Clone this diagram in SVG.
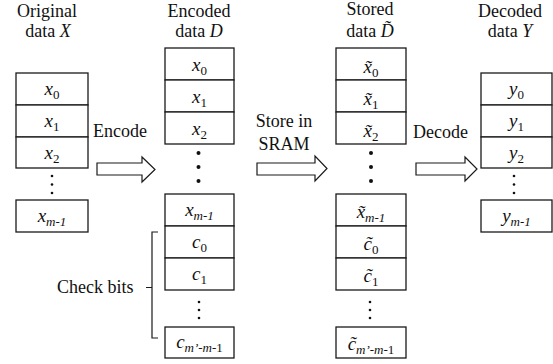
<svg xmlns="http://www.w3.org/2000/svg" width="553" height="364" viewBox="0 0 553 364">
  <style>
    .cell { fill: #fff; stroke: #1a1a1a; stroke-width: 1.3; }
    .arrow { fill: #fff; stroke: #1a1a1a; stroke-width: 1.2; stroke-linejoin: miter; }
    .dot { fill: #111; }
    .brace { fill: none; stroke: #1a1a1a; stroke-width: 1.2; }
  </style>
  <rect width="553" height="364" fill="#fff"/>
  <g id="original" font-family="'Times New Roman', 'Liberation Serif', serif" fill="#111">
    <text font-family="'Times New Roman', 'Liberation Serif', serif" font-size="18" text-anchor="middle" x="47" y="17">Original</text>
    <text font-family="'Times New Roman', 'Liberation Serif', serif" font-size="18" text-anchor="middle" x="48" y="37">data <tspan font-style="italic">X</tspan></text>
    <rect class="cell" x="16" y="73" width="72" height="32"/>
    <rect class="cell" x="16" y="105" width="72" height="32"/>
    <rect class="cell" x="16" y="137" width="72" height="31"/>
    <rect class="cell" x="16" y="200" width="72" height="32"/>
    <text font-family="'Times New Roman', 'Liberation Serif', serif" font-size="19" font-style="italic" text-anchor="middle" x="52" y="95">x<tspan font-size="13" font-style="normal" dy="4">0</tspan></text>
    <text font-family="'Times New Roman', 'Liberation Serif', serif" font-size="19" font-style="italic" text-anchor="middle" x="52" y="127">x<tspan font-size="13" font-style="normal" dy="4">1</tspan></text>
    <text font-family="'Times New Roman', 'Liberation Serif', serif" font-size="19" font-style="italic" text-anchor="middle" x="52" y="159">x<tspan font-size="13" font-style="normal" dy="4">2</tspan></text>
    <text font-family="'Times New Roman', 'Liberation Serif', serif" font-size="19" font-style="italic" text-anchor="middle" x="52" y="222">x<tspan font-size="13" dy="4">m-1</tspan></text>
    <circle class="dot" cx="52" cy="176" r="1.3"/>
    <circle class="dot" cx="52" cy="184.5" r="1.3"/>
    <circle class="dot" cx="52" cy="193" r="1.3"/>
  </g>
  <g id="encoded" font-family="'Times New Roman', 'Liberation Serif', serif" fill="#111">
    <text font-family="'Times New Roman', 'Liberation Serif', serif" font-size="18" text-anchor="middle" x="199" y="17">Encoded</text>
    <text font-family="'Times New Roman', 'Liberation Serif', serif" font-size="18" text-anchor="middle" x="199" y="37">data <tspan font-style="italic">D</tspan></text>
    <rect class="cell" x="165" y="48" width="69" height="32"/>
    <rect class="cell" x="165" y="80" width="69" height="32"/>
    <rect class="cell" x="165" y="112" width="69" height="32"/>
    <rect class="cell" x="165" y="194" width="69" height="32"/>
    <rect class="cell" x="165" y="226" width="69" height="32"/>
    <rect class="cell" x="165" y="258" width="69" height="32"/>
    <rect class="cell" x="165" y="327" width="69" height="31"/>
    <text font-family="'Times New Roman', 'Liberation Serif', serif" font-size="19" font-style="italic" text-anchor="middle" x="199.5" y="71">x<tspan font-size="13" font-style="normal" dy="4">0</tspan></text>
    <text font-family="'Times New Roman', 'Liberation Serif', serif" font-size="19" font-style="italic" text-anchor="middle" x="199.5" y="103">x<tspan font-size="13" font-style="normal" dy="4">1</tspan></text>
    <text font-family="'Times New Roman', 'Liberation Serif', serif" font-size="19" font-style="italic" text-anchor="middle" x="199.5" y="135">x<tspan font-size="13" font-style="normal" dy="4">2</tspan></text>
    <text font-family="'Times New Roman', 'Liberation Serif', serif" font-size="19" font-style="italic" text-anchor="middle" x="199.5" y="216">x<tspan font-size="13" dy="4">m-1</tspan></text>
    <text font-family="'Times New Roman', 'Liberation Serif', serif" font-size="19" font-style="italic" text-anchor="middle" x="199.5" y="248">c<tspan font-size="13" font-style="normal" dy="4">0</tspan></text>
    <text font-family="'Times New Roman', 'Liberation Serif', serif" font-size="19" font-style="italic" text-anchor="middle" x="199.5" y="280">c<tspan font-size="13" font-style="normal" dy="4">1</tspan></text>
    <text font-family="'Times New Roman', 'Liberation Serif', serif" font-size="19" font-style="italic" text-anchor="middle" x="199.5" y="348">c<tspan font-size="13" dy="4">m&#8217;-m-</tspan><tspan font-size="13" font-style="normal">1</tspan></text>
    <circle class="dot" cx="198.5" cy="153" r="2"/>
    <circle class="dot" cx="198.5" cy="167" r="2"/>
    <circle class="dot" cx="198.5" cy="181" r="2"/>
    <circle class="dot" cx="199" cy="302" r="1.3"/>
    <circle class="dot" cx="199" cy="310" r="1.3"/>
    <circle class="dot" cx="199" cy="318" r="1.3"/>
  </g>
  <g id="stored" font-family="'Times New Roman', 'Liberation Serif', serif" fill="#111">
    <text font-family="'Times New Roman', 'Liberation Serif', serif" font-size="18" text-anchor="middle" x="370" y="15">Stored</text>
    <text font-family="'Times New Roman', 'Liberation Serif', serif" font-size="18" text-anchor="middle" x="370" y="37">data <tspan font-style="italic">D&#x303;</tspan></text>
    <rect class="cell" x="336" y="48" width="70" height="32"/>
    <rect class="cell" x="336" y="80" width="70" height="32"/>
    <rect class="cell" x="336" y="112" width="70" height="32"/>
    <rect class="cell" x="336" y="194" width="70" height="32"/>
    <rect class="cell" x="336" y="226" width="70" height="32"/>
    <rect class="cell" x="336" y="258" width="70" height="32"/>
    <rect class="cell" x="336" y="327" width="70" height="31"/>
    <text font-family="'Times New Roman', 'Liberation Serif', serif" font-size="19" font-style="italic" text-anchor="middle" x="371" y="73">x&#x303;<tspan font-size="13" font-style="normal" dy="4">0</tspan></text>
    <text font-family="'Times New Roman', 'Liberation Serif', serif" font-size="19" font-style="italic" text-anchor="middle" x="371" y="105">x&#x303;<tspan font-size="13" font-style="normal" dy="4">1</tspan></text>
    <text font-family="'Times New Roman', 'Liberation Serif', serif" font-size="19" font-style="italic" text-anchor="middle" x="371" y="137">x&#x303;<tspan font-size="13" font-style="normal" dy="4">2</tspan></text>
    <text font-family="'Times New Roman', 'Liberation Serif', serif" font-size="19" font-style="italic" text-anchor="middle" x="371" y="218">x&#x303;<tspan font-size="13" dy="4">m-1</tspan></text>
    <text font-family="'Times New Roman', 'Liberation Serif', serif" font-size="19" font-style="italic" text-anchor="middle" x="371" y="250">c&#x303;<tspan font-size="13" font-style="normal" dy="4">0</tspan></text>
    <text font-family="'Times New Roman', 'Liberation Serif', serif" font-size="19" font-style="italic" text-anchor="middle" x="371" y="282">c&#x303;<tspan font-size="13" font-style="normal" dy="4">1</tspan></text>
    <text font-family="'Times New Roman', 'Liberation Serif', serif" font-size="19" font-style="italic" text-anchor="middle" x="371" y="350">c&#x303;<tspan font-size="13" dy="4">m&#8217;-m-</tspan><tspan font-size="13" font-style="normal">1</tspan></text>
    <circle class="dot" cx="371" cy="153" r="2"/>
    <circle class="dot" cx="371" cy="167" r="2"/>
    <circle class="dot" cx="371" cy="181" r="2"/>
    <circle class="dot" cx="370" cy="302" r="1.3"/>
    <circle class="dot" cx="370" cy="310" r="1.3"/>
    <circle class="dot" cx="370" cy="318" r="1.3"/>
  </g>
  <g id="decoded" font-family="'Times New Roman', 'Liberation Serif', serif" fill="#111">
    <text font-family="'Times New Roman', 'Liberation Serif', serif" font-size="18" text-anchor="middle" x="510" y="17">Decoded</text>
    <text font-family="'Times New Roman', 'Liberation Serif', serif" font-size="18" text-anchor="middle" x="510" y="37">data <tspan font-style="italic">Y</tspan></text>
    <rect class="cell" x="481" y="73" width="71" height="32"/>
    <rect class="cell" x="481" y="105" width="71" height="32"/>
    <rect class="cell" x="481" y="137" width="71" height="31"/>
    <rect class="cell" x="481" y="200" width="71" height="32"/>
    <text font-family="'Times New Roman', 'Liberation Serif', serif" font-size="19" font-style="italic" text-anchor="middle" x="516.5" y="95">y<tspan font-size="13" font-style="normal" dy="4">0</tspan></text>
    <text font-family="'Times New Roman', 'Liberation Serif', serif" font-size="19" font-style="italic" text-anchor="middle" x="516.5" y="127">y<tspan font-size="13" font-style="normal" dy="4">1</tspan></text>
    <text font-family="'Times New Roman', 'Liberation Serif', serif" font-size="19" font-style="italic" text-anchor="middle" x="516.5" y="159">y<tspan font-size="13" font-style="normal" dy="4">2</tspan></text>
    <text font-family="'Times New Roman', 'Liberation Serif', serif" font-size="19" font-style="italic" text-anchor="middle" x="516.5" y="222">y<tspan font-size="13" dy="4">m-1</tspan></text>
    <circle class="dot" cx="514" cy="176" r="1.3"/>
    <circle class="dot" cx="514" cy="184.5" r="1.3"/>
    <circle class="dot" cx="514" cy="193" r="1.3"/>
  </g>
  <g id="checkbits" font-family="'Times New Roman', 'Liberation Serif', serif" fill="#111">
    <text font-family="'Times New Roman', 'Liberation Serif', serif" font-size="18" x="57" y="293">Check bits</text>
    <path class="brace" d="M158,232 H152 V338 H158 M146,287.5 H152"/>
  </g>
  <g id="connectors" font-family="'Times New Roman', 'Liberation Serif', serif" fill="#111">
    <polygon class="arrow" points="97,163 142,163 142,157 155,169.5 142,182 142,175 97,175"/>
    <text font-family="'Times New Roman', 'Liberation Serif', serif" font-size="18" x="93" y="137">Encode</text>
    <polygon class="arrow" points="257,163 315,163 315,156 327,168.5 315,181 315,175 257,175"/>
    <text font-family="'Times New Roman', 'Liberation Serif', serif" font-size="18" text-anchor="middle" x="284" y="127">Store in</text>
    <text font-family="'Times New Roman', 'Liberation Serif', serif" font-size="18" text-anchor="middle" x="284" y="150">SRAM</text>
    <polygon class="arrow" points="416,163 465,163 465,157 477,169 465,181 465,175 416,175"/>
    <text font-family="'Times New Roman', 'Liberation Serif', serif" font-size="18" x="413" y="138">Decode</text>
  </g>
</svg>
